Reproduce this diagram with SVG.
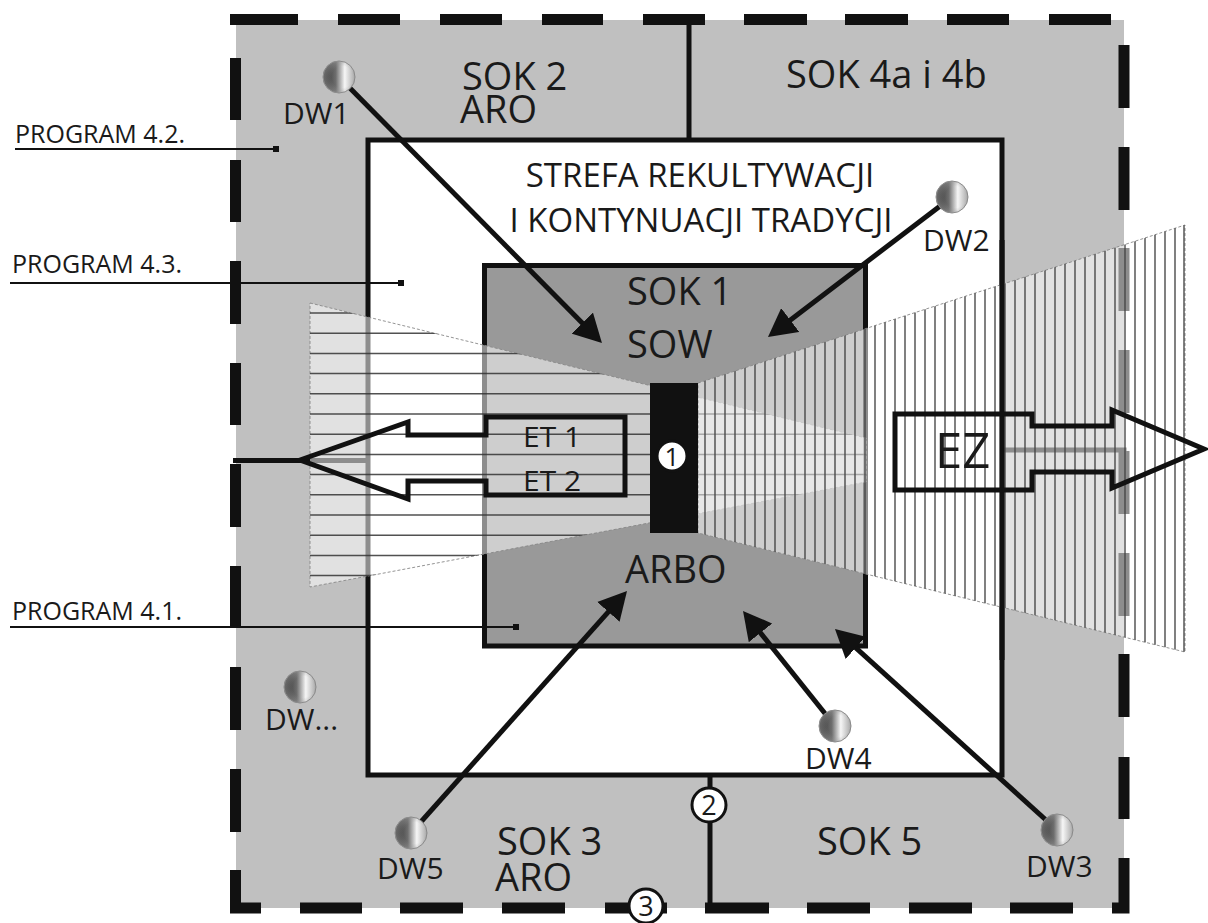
<svg xmlns="http://www.w3.org/2000/svg" width="1208" height="923" viewBox="0 0 1208 923">
<style>
.t{font-family:"Open Sans","Noto Sans","DejaVu Sans",sans-serif;fill:#1a1a1a}
.big{font-size:38px}
.mid{font-size:38px}
.str{font-size:33px}
.dw{font-size:30px}
.prog{font-size:25px}
.dash{fill:none;stroke:#111;stroke-width:11;stroke-linecap:butt}
.edge{fill:none;stroke:#111;stroke-width:5}
.conn{fill:none;stroke:#111;stroke-width:5;marker-end:url(#ah)}
.lead{fill:none;stroke:#111;stroke-width:1.8}
.hl{stroke:#333;stroke-width:1.5;stroke-opacity:0.85}
.vl{stroke:#444;stroke-width:1.6;stroke-opacity:0.85}
.cone{fill:#fff;fill-opacity:0.52;stroke:#888;stroke-width:0.9;stroke-dasharray:3 2}
.arrow{fill:none;stroke:#111;stroke-width:5;stroke-linejoin:miter}
.num{fill:#fff;stroke:#111;stroke-width:3}
.ball{fill:url(#bg);stroke:#888;stroke-width:1}
.shade{fill:url(#bs)}
</style>
<defs>
<marker id="ah" viewBox="0 0 28 30" refX="8" refY="15" markerWidth="28" markerHeight="30" markerUnits="userSpaceOnUse" orient="auto"><path d="M0,0 L28,15 L0,30 Z" fill="#111"/></marker>
<linearGradient id="bg" x1="0" y1="0" x2="1" y2="0">
<stop offset="0" stop-color="#2e2e2e"/>
<stop offset="0.4" stop-color="#6e6e6e"/>
<stop offset="0.68" stop-color="#f6f6f6"/>
<stop offset="1" stop-color="#a8a8a8"/>
</linearGradient>
<radialGradient id="bs" cx="0.6" cy="0.5" r="0.6">
<stop offset="0.55" stop-color="#999" stop-opacity="0"/>
<stop offset="1" stop-color="#999" stop-opacity="0.6"/>
</radialGradient>
<clipPath id="cl"><polygon points="310,303 866,438 866,482 310,587"/></clipPath>
<clipPath id="cr"><polygon points="698,383 1185,225 1185,652 698,533"/></clipPath>
</defs>

<g id="zones">
<rect id="outer" x="236" y="20" width="888" height="888" fill="#c0c0c0"/>
<rect id="strefa" x="368" y="140" width="634" height="635" fill="#fff" stroke="#111" stroke-width="5"/>
<path id="dividers" class="edge" d="M689 20V140 M710 775V908 M233 460.5H368 M1002 450H1124V455"/>
<rect id="sok1" x="484.5" y="265.5" width="381" height="380.5" fill="#999" stroke="#111" stroke-width="5"/>
<path id="border" class="dash" d="M230 19.5H298 M338 19.5H400 M440 19.5H502 M542 19.5H603 M643 19.5H705 M744 19.5H807 M845 19.5H908 M947 19.5H1009 M1049 19.5H1111 M235.5 58V120 M235.5 160V222 M235.5 261V324 M235.5 363V425 M235.5 464V527 M235.5 566V628 M235.5 667V730 M235.5 769V832 M235.5 870V913.5 M230 908H261 M300 908H362 M400 908H463 M502 908H565 M605 908H667 M705 908H769 M807 908H870 M909 908H972 M1010 908H1073 M1112 908H1129.5 M1124 45V108 M1124 147V210 M1124 248V311 M1124 350V413 M1124 451V514 M1124 553V616 M1124 654V717 M1124 757V819 M1124 858V913.5"/>
</g>

<g id="labels">
<text class="t big" x="462" y="90">SOK 2<tspan x="460" y="123">ARO</tspan></text>
<text class="t big" x="786" y="88">SOK 4a i 4b</text>
<text class="t str" x="700" y="187" text-anchor="middle">STREFA REKULTYWACJI<tspan x="701" y="232">I KONTYNUACJI TRADYCJI</tspan></text>
<text class="t mid" x="627" y="305">SOK 1<tspan x="627" y="358">SOW</tspan></text>
<text class="t mid" x="625" y="583">ARBO</text>
<text class="t big" x="497" y="855">SOK 3<tspan x="495" y="891">ARO</tspan></text>
<text class="t big" x="817" y="855">SOK 5</text>
</g>

<g id="cone-left">
<polygon class="cone" points="310,303 866,438 866,482 310,587"/>
<g clip-path="url(#cl)">
<path class="hl" d="M310 313H866 M310 333.2H866 M310 353.4H866 M310 373.6H866 M310 393.8H866 M310 414H866 M310 434.2H866 M310 454.4H866 M310 474.6H866 M310 494.8H866 M310 515H866 M310 535.2H866 M310 555.4H866 M310 575.6H866"/>
</g>
</g>

<g id="cone-right">
<polygon class="cone" points="698,383 1185,225 1185,652 698,533"/>
<g clip-path="url(#cr)">
<path class="vl" d="M705 220V660 M715 220V660 M725 220V660 M735 220V660 M745 220V660 M755 220V660 M765 220V660 M775 220V660 M785 220V660 M795 220V660 M805 220V660 M815 220V660 M825 220V660 M835 220V660 M845 220V660 M855 220V660 M865 220V660 M875 220V660 M885 220V660 M895 220V660 M905 220V660 M915 220V660 M925 220V660 M935 220V660 M945 220V660 M955 220V660 M965 220V660 M975 220V660 M985 220V660 M995 220V660 M1005 220V660 M1015 220V660 M1025 220V660 M1035 220V660 M1045 220V660 M1055 220V660 M1065 220V660 M1075 220V660 M1085 220V660 M1095 220V660 M1105 220V660 M1115 220V660 M1125 220V660 M1135 220V660 M1145 220V660 M1155 220V660 M1165 220V660 M1175 220V660 M1184 220V660"/>
</g>
</g>

<g id="edge-right"><path class="edge" d="M1002 240V660"/></g>

<g id="bar">
<rect x="650" y="383" width="48" height="150" fill="#111"/>
<circle class="num" cx="672" cy="456" r="15" stroke-width="2"/>
<text class="t" x="672" y="466" text-anchor="middle" font-size="26">1</text>
</g>

<g id="et">
<polygon class="arrow" points="300,460 408,422 408,435 486,435 486,417 625,417 625,495 486,495 486,481 408,481 408,499"/>
<text class="t" x="523" y="447" font-size="27" textLength="58" lengthAdjust="spacingAndGlyphs">ET 1</text>
<text class="t" x="523" y="491" font-size="27" textLength="58" lengthAdjust="spacingAndGlyphs">ET 2</text>
</g>

<g id="ez">
<polygon class="arrow" points="895,414 1032,414 1032,426 1112,426 1112,410 1204,449 1112,488 1112,472 1032,472 1032,490 895,490"/>
<text class="t" x="935" y="468" font-size="49">EZ</text>
</g>

<g id="connectors">
<path class="conn" d="M339 77L587.9 328.8"/>
<path class="conn" d="M952 197L783.9 324.9"/>
<path class="conn" d="M411 833L613.7 605.9"/>
<path class="conn" d="M835 726L755.5 626.6"/>
<path class="conn" d="M1057 830L849.8 642.4"/>
</g>

<g id="dw1"><circle class="ball" cx="339" cy="77" r="16"/><circle class="shade" cx="339" cy="77" r="16"/><text class="t dw" x="283" y="124">DW1</text></g>
<g id="dw2"><circle class="ball" cx="952" cy="197" r="16"/><circle class="shade" cx="952" cy="197" r="16"/><text class="t dw" x="923" y="251">DW2</text></g>
<g id="dw3"><circle class="ball" cx="1057" cy="830" r="16"/><circle class="shade" cx="1057" cy="830" r="16"/><text class="t dw" x="1026" y="877">DW3</text></g>
<g id="dw4"><circle class="ball" cx="835" cy="726" r="16"/><circle class="shade" cx="835" cy="726" r="16"/><text class="t dw" x="805" y="769">DW4</text></g>
<g id="dw5"><circle class="ball" cx="411" cy="833" r="16"/><circle class="shade" cx="411" cy="833" r="16"/><text class="t dw" x="377" y="879">DW5</text></g>
<g id="dwx"><circle class="ball" cx="300" cy="687" r="16"/><circle class="shade" cx="300" cy="687" r="16"/><text class="t dw" x="265" y="730">DW...</text></g>

<g id="n2">
<circle class="num" cx="709" cy="805" r="17"/>
<text class="t" x="709" y="815" text-anchor="middle" font-size="27">2</text>
</g>
<g id="n3">
<circle class="num" cx="646" cy="906" r="17"/>
<text class="t" x="646" y="916" text-anchor="middle" font-size="27">3</text>
</g>

<g id="program-42">
<text class="t prog" x="15" y="143">PROGRAM 4.2.</text>
<path class="lead" d="M15 149H278"/><rect x="273" y="146" width="6" height="6" fill="#111"/>
</g>
<g id="program-43">
<text class="t prog" x="12" y="273">PROGRAM 4.3.</text>
<path class="lead" d="M10 283H403"/><rect x="398" y="280" width="6" height="6" fill="#111"/>
</g>
<g id="program-41">
<text class="t prog" x="12" y="620">PROGRAM 4.1.</text>
<path class="lead" d="M10 627H518"/><rect x="513" y="624" width="6" height="6" fill="#111"/>
</g>
</svg>
